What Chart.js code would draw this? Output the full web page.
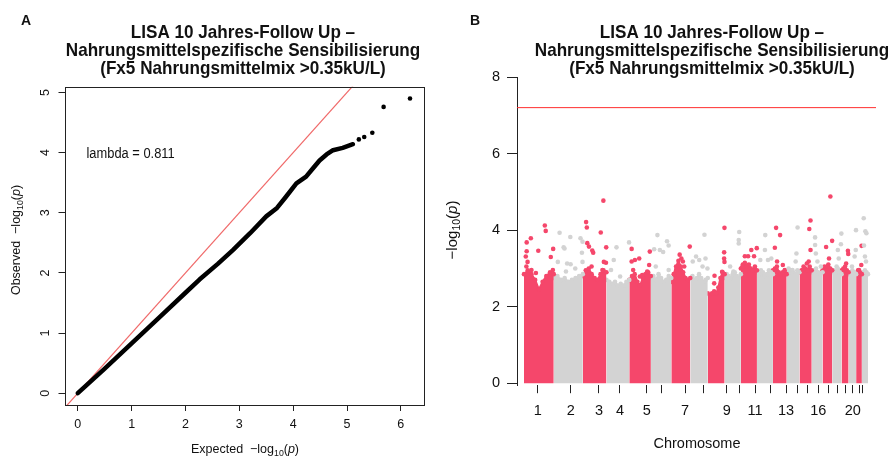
<!DOCTYPE html>
<html>
<head>
<meta charset="utf-8">
<script src="https://cdn.jsdelivr.net/npm/chart.js@4/dist/chart.umd.min.js"></script>
<style>
  html, body { margin: 0; padding: 0; background: #fff; }
  #wrap { position: relative; width: 891px; height: 457px; overflow: hidden; }
  canvas { position: absolute; top: 0; }
  #qq { left: 0; }
  #mh { left: 440px; }
</style>
</head>
<body>
<div id="wrap">
  <canvas id="qq" width="440" height="457"></canvas>
  <canvas id="mh" width="451" height="457"></canvas>
</div>
<script>
// ---------- shared text ----------
const titleLines = ['LISA 10 Jahres-Follow Up \u2013', 'Nahrungsmittelspezifische Sensibilisierung', '(Fx5 Nahrungsmittelmix >0.35kU/L)'];
const lambdaGC = 0.811;

// ---------- panel A: QQ plot (expected vs observed -log10 p) ----------
// dense body of the distribution, traced as a thick path
const qqBodyExpected = [0, 0.5, 1.0, 1.5, 2.0, 2.26, 2.6, 2.88, 3.2, 3.5, 3.7, 3.87, 4.06, 4.24, 4.35, 4.49, 4.62, 4.74, 4.92, 5.11];
const qqBodyObserved = [0, 0.41, 0.83, 1.25, 1.67, 1.89, 2.15, 2.38, 2.66, 2.94, 3.08, 3.27, 3.49, 3.60, 3.72, 3.87, 3.97, 4.04, 4.08, 4.14];
// sparse upper tail, single markers
const qqTailExpected = [5.22, 5.32, 5.47, 5.68, 6.17];
const qqTailObserved = [4.22, 4.26, 4.33, 4.76, 4.90];
const qqTicksX = [0, 1, 2, 3, 4, 5, 6];
const qqTicksY = [0, 1, 2, 3, 4, 5];

// ---------- panel B: Manhattan plot ----------
const chromosomes = ['1','2','3','4','5','6','7','8','9','10','11','12','13','14','15','16','17','18','19','20','21','22'];
const chrLengthMb = [249.3, 243.2, 198.0, 191.2, 180.9, 171.1, 159.1, 146.4, 141.2, 135.5, 135.0, 133.9, 115.2, 107.3, 102.5, 90.4, 81.2, 78.1, 59.1, 63.0, 48.1, 51.3];
// cumulative genome position of each chromosome's axis tick (median marker)
const chrTickMb = [114.7, 391.1, 628.1, 804.0, 1027.6, 1147.4, 1348.4, 1507.5, 1697.7, 1803.2, 1934.7, 2066.2, 2194.3, 2292.3, 2372.7, 2464.8, 2548.6, 2624.0, 2694.3, 2752.9, 2808.2, 2833.3];
const chrTickLabel = ['1','2','3','4','5','','7','','9','','11','','13','','','16','','','','20','',''];
// upper edge of the dense marker band (-log10 p), equal steps along each chromosome
const bandTop = [
  [2.85, 2.95, 2.85, 2.70, 2.45, 2.65, 2.80, 2.90, 2.85],
  [2.75, 2.80, 2.70, 2.75, 2.65, 2.70, 2.75, 2.80, 2.85],
  [2.80, 2.95, 3.00, 2.85, 2.75, 2.70, 2.85, 2.95, 2.90],
  [2.70, 2.65, 2.60, 2.65, 2.55, 2.60, 2.55, 2.65, 2.70],
  [2.70, 2.80, 2.85, 2.65, 2.55, 2.75, 2.85, 2.90, 2.80],
  [2.75, 2.80, 2.70, 2.85, 2.75, 2.65, 2.70, 2.80, 2.75],
  [2.65, 2.85, 3.05, 3.20, 3.05, 2.90, 2.75, 2.70, 2.75],
  [2.75, 2.80, 2.70, 2.75, 2.85, 2.75, 2.65, 2.70, 2.75],
  [2.35, 2.30, 2.35, 2.40, 2.35, 2.50, 2.75, 2.90, 2.85],
  [2.75, 2.85, 2.80, 2.75, 2.85, 2.90, 2.80, 2.75, 2.85],
  [3.00, 3.10, 3.15, 3.05, 3.10, 3.00, 2.95, 3.05, 2.95],
  [2.90, 2.85, 2.95, 2.90, 2.80, 2.85, 2.95, 2.90, 2.85],
  [2.95, 3.00, 3.05, 2.90, 2.85, 2.90, 2.95, 2.85],
  [2.85, 2.90, 2.95, 2.90, 2.85, 2.95, 2.90],
  [2.90, 2.95, 3.05, 3.00, 2.95, 3.05, 2.95],
  [2.90, 2.95, 3.00, 2.90, 2.85, 2.90],
  [2.95, 3.05, 3.00, 3.10, 3.00, 2.95],
  [2.90, 2.95, 2.90, 3.00, 2.90, 2.85],
  [2.95, 3.00, 3.05, 2.95, 2.90],
  [2.85, 2.90, 2.95, 2.90, 2.85],
  [2.85, 2.95, 2.90, 2.85],
  [2.85, 2.90, 2.95, 2.90, 2.85]
];
// markers above the band: [chromosome index, relative position in chromosome, -log10 p]
const hits = [
  [0,0.09,3.68],[0,0.23,3.79],[0,0.09,3.45],[0,0.48,3.46],[0,0.70,4.12],[0,0.73,3.98],[0,0.90,3.30],[0,0.98,3.51],[0,0.97,2.96],[0,0.06,3.31],[0,0.12,3.17],[0,0.08,3.05],[0,0.25,2.96],[0,0.40,2.88],
  [1,0.20,3.93],[1,0.34,3.55],[1,0.57,3.82],[1,0.46,3.13],[1,0.14,3.17],[1,0.42,2.92],[1,0.92,3.79],[1,0.99,3.70],[1,0.97,3.41],[1,0.99,3.17],[1,0.58,3.11],[1,0.74,3.00],[1,0.37,3.52],
  [2,0.14,4.21],[2,0.17,4.07],[2,0.87,4.77],[2,0.76,3.94],[2,0.19,3.66],[2,0.26,3.57],[2,0.40,3.47],[2,0.44,3.41],[2,0.83,2.96],[2,0.99,3.55],[2,0.98,3.15],[2,0.37,3.05],[2,0.89,3.17],
  [3,0.44,3.55],[3,0.32,3.22],[3,0.60,2.79],[3,0.99,3.68],[3,0.20,2.96],
  [4,0.11,3.51],[4,0.11,3.18],[4,0.26,3.22],[4,0.46,3.26],[4,0.95,3.44],[4,0.92,3.09],[4,0.49,2.79],[4,0.60,2.83],[4,0.83,2.92],[4,0.18,2.96],
  [5,0.32,3.87],[5,0.79,3.71],[5,0.87,3.60],[5,0.44,3.48],[5,0.60,3.43],[5,0.24,3.05],[5,0.87,2.96],[5,0.16,3.50],
  [6,0.44,3.36],[6,0.53,3.26],[6,0.61,3.18],[6,0.68,3.05],[6,0.26,2.96],[6,0.97,3.57],
  [7,0.81,3.88],[7,0.87,3.26],[7,0.51,3.22],[7,0.33,3.31],[7,0.70,3.05],[7,0.98,3.00],[7,0.14,3.18],
  [8,0.99,4.06],[8,0.97,3.42],[8,0.97,3.26],[8,0.99,3.17],[8,0.40,2.81],[8,0.38,2.61],[8,0.85,2.91],
  [9,0.90,3.95],[9,0.87,3.74],[9,0.87,3.65],[9,0.34,3.05],[9,0.54,2.92],
  [10,0.25,3.32],[10,0.45,3.32],[10,0.65,3.48],[10,0.82,3.32],[10,0.99,3.53],[10,0.10,3.05],
  [11,0.52,3.87],[11,0.21,3.22],[11,0.69,3.22],[11,0.90,3.26],[11,0.50,3.48],
  [12,0.23,4.06],[12,0.52,3.87],[12,0.14,3.54],[12,0.30,3.18],[12,0.87,2.96],[12,0.72,3.09],
  [13,0.85,4.07],[13,0.76,3.39],[13,0.70,3.18],[13,0.15,3.00],[13,0.45,2.96],
  [14,0.90,4.25],[14,0.80,4.03],[14,0.90,3.48],[14,0.75,3.18],[14,0.60,3.13],[14,0.30,2.96],
  [15,0.31,3.81],[15,0.31,3.61],[15,0.38,3.39],[15,0.53,3.18],[15,0.84,3.05],
  [16,0.81,4.88],[16,0.37,3.56],[16,0.99,3.72],[16,0.67,3.26],[16,0.50,3.05],
  [17,0.93,3.63],[17,0.60,3.48],[17,0.70,3.26],[17,0.98,3.91],[17,0.47,3.05],
  [18,0.90,3.46],[18,0.95,3.38],[18,0.65,3.13],[18,0.50,2.96],
  [19,0.98,4.00],[19,0.95,3.48],[19,0.80,3.31],[19,0.45,3.05],
  [20,0.95,3.59],[20,0.90,3.09],[20,0.50,2.96],
  [21,0.30,4.31],[21,0.57,3.97],[21,0.74,3.92],[21,0.50,3.31],[21,0.35,3.60],[21,0.67,3.18]
];
const genomeWideLine = 7.2;
const mhTicksY = [0, 2, 4, 6, 8];

// ---------- styling ----------
const FONT = '"Liberation Sans", Arial, Helvetica, sans-serif';
const INK = '#111';
const ODD_COLOR = '#f5476b';
const EVEN_COLOR = '#d3d3d3';
const DOT = 2.3;

function squeezedText(ctx, str, x, y, font, align, sx) {
  ctx.save();
  ctx.font = font;
  ctx.textAlign = align;
  ctx.textBaseline = 'alphabetic';
  ctx.translate(x, y);
  ctx.scale(sx, 1);
  ctx.fillText(str, 0, 0);
  ctx.restore();
}

// "<lead> −log10(p)" with subscript and italic p
function logLabel(ctx, lead, cx, cy, size, rotate) {
  const parts = [
    { t: lead + '\u2212log', f: size + 'px ' + FONT, dy: 0 },
    { t: '10', f: (size * 0.7) + 'px ' + FONT, dy: size * 0.3 },
    { t: '(', f: size + 'px ' + FONT, dy: 0 },
    { t: 'p', f: 'italic ' + size + 'px ' + FONT, dy: 0 },
    { t: ')', f: size + 'px ' + FONT, dy: 0 }
  ];
  ctx.save();
  let w = 0;
  parts.forEach(p => { ctx.font = p.f; p.w = ctx.measureText(p.t).width; w += p.w; });
  ctx.translate(cx, cy);
  if (rotate) ctx.rotate(-Math.PI / 2);
  ctx.textBaseline = 'middle';
  ctx.textAlign = 'left';
  let x = -w / 2;
  parts.forEach(p => { ctx.font = p.f; ctx.fillText(p.t, x, p.dy); x += p.w; });
  ctx.restore();
}

function drawTitle(ctx, cx) {
  titleLines.forEach((line, i) => {
    squeezedText(ctx, line, cx, 38 + i * 18, 'bold 19px ' + FONT, 'center', 0.9);
  });
}

// ---------- panel A ----------
const qqBody = qqBodyExpected.map((e, i) => ({ x: e, y: qqBodyObserved[i] }));
const qqTail = qqTailExpected.map((e, i) => ({ x: e, y: qqTailObserved[i] }));
const QQ_X = { min: -0.247, max: 6.417 };
const QQ_Y = { min: -0.196, max: 5.096 };

const qqDecor = {
  id: 'qqDecor',
  afterDraw(chart) {
    const ctx = chart.ctx;
    const a = chart.chartArea;
    ctx.save();
    ctx.strokeStyle = '#222';
    ctx.lineWidth = 1;
    ctx.strokeRect(Math.round(a.left) + 0.5, Math.round(a.top) + 0.5, Math.round(a.right - a.left), Math.round(a.bottom - a.top));
    ctx.fillStyle = INK;
    squeezedText(ctx, 'A', 21, 25, 'bold 14px ' + FONT, 'left', 1);
    drawTitle(ctx, 243);
    squeezedText(ctx, 'lambda = ' + lambdaGC, 86.5, 158, '14px ' + FONT, 'left', 0.92);
    logLabel(ctx, 'Expected  ', 245, 450, 12.5, false);
    logLabel(ctx, 'Observed  ', 17, 240, 12.5, true);
    ctx.restore();
  }
};

new Chart(document.getElementById('qq'), {
  type: 'scatter',
  data: {
    datasets: [
      { type: 'line', data: [{ x: -1, y: -1 }, { x: 7, y: 7 }], borderColor: '#f06a6a', borderWidth: 1.2, pointRadius: 0, order: 2 },
      { type: 'line', data: qqBody, borderColor: '#000', borderWidth: 4.5, pointRadius: 0, borderCapStyle: 'round', borderJoinStyle: 'round', tension: 0, order: 1 },
      { data: qqTail, backgroundColor: '#000', borderWidth: 0, pointRadius: DOT, order: 0 }
    ]
  },
  options: {
    responsive: false, animation: false, events: [],
    layout: { padding: { left: 34.5, right: 16.7, top: 86.7, bottom: 22 } },
    plugins: { legend: { display: false }, tooltip: { enabled: false } },
    scales: {
      x: {
        type: 'linear', min: QQ_X.min, max: QQ_X.max,
        afterFit: s => { s.height = 30; },
        afterBuildTicks: s => { s.ticks = qqTicksX.map(v => ({ value: v })); },
        border: { display: false },
        grid: { drawOnChartArea: false, tickLength: 6, tickColor: '#222' },
        ticks: { color: INK, font: { family: FONT, size: 12.5 }, padding: 6, maxRotation: 0, autoSkip: false }
      },
      y: {
        type: 'linear', min: QQ_Y.min, max: QQ_Y.max,
        afterFit: s => { s.width = 30; },
        afterBuildTicks: s => { s.ticks = qqTicksY.map(v => ({ value: v })); },
        border: { display: false },
        grid: { drawOnChartArea: false, tickLength: 6, tickColor: '#222' },
        ticks: { color: INK, font: { family: FONT, size: 12.5 }, padding: 9, minRotation: 90, maxRotation: 90, crossAlign: 'center', autoSkip: false }
      }
    }
  },
  plugins: [qqDecor]
});

// ---------- panel B ----------
const chrStartMb = [];
let cum = 0;
chrLengthMb.forEach(len => { chrStartMb.push(cum); cum += len; });
const colorOf = c => (c % 2 === 0 ? ODD_COLOR : EVEN_COLOR);
const MH_X = { min: -58.6, max: 2948 };

// the dense marker mass of each chromosome: filled to zero, markers at the sampled edge
const bandSets = bandTop.map((tops, c) => ({
  type: 'line',
  data: tops.map((v, k) => ({ x: chrStartMb[c] + chrLengthMb[c] * k / (tops.length - 1), y: v })),
  borderColor: colorOf(c), borderWidth: 2, borderJoinStyle: 'round',
  pointRadius: DOT, pointBackgroundColor: colorOf(c), pointBorderWidth: 0,
  backgroundColor: colorOf(c), fill: 'origin', tension: 0, order: 3
}));

const hitPoints = hits.map(h => ({ x: chrStartMb[h[0]] + h[1] * chrLengthMb[h[0]], y: h[2] }));
const hitColors = hits.map(h => colorOf(h[0]));

const mhDecor = {
  id: 'mhDecor',
  afterDraw(chart) {
    const ctx = chart.ctx;
    ctx.save();
    ctx.fillStyle = INK;
    squeezedText(ctx, 'B', 30, 25, 'bold 14px ' + FONT, 'left', 1);
    drawTitle(ctx, 272);
    logLabel(ctx, '', 13, 230, 15, true);
    ctx.font = '14.5px ' + FONT;
    ctx.textAlign = 'center';
    ctx.textBaseline = 'middle';
    ctx.fillText('Chromosome', 257, 444);
    ctx.restore();
  }
};

new Chart(document.getElementById('mh'), {
  type: 'scatter',
  data: {
    datasets: [
      { data: hitPoints, backgroundColor: hitColors, borderWidth: 0, pointRadius: DOT, order: 0 },
      { type: 'line', data: [{ x: MH_X.min, y: genomeWideLine }, { x: MH_X.max, y: genomeWideLine }], borderColor: '#ff2e2e', borderWidth: 1, pointRadius: 0, order: 1 }
    ].concat(bandSets)
  },
  options: {
    responsive: false, animation: false, events: [],
    layout: { padding: { left: 37, right: 15, top: 77, bottom: 31.8 } },
    plugins: { legend: { display: false }, tooltip: { enabled: false } },
    scales: {
      x: {
        type: 'linear', min: MH_X.min, max: MH_X.max,
        afterFit: s => { s.height = 40; },
        afterBuildTicks: s => { s.ticks = chrTickMb.map(v => ({ value: v })); },
        border: { display: false },
        grid: { drawOnChartArea: false, tickLength: 8, tickColor: '#222' },
        ticks: {
          color: INK, font: { family: FONT, size: 14.5 }, padding: 9, maxRotation: 0, autoSkip: false,
          callback: (v, i) => chrTickLabel[i]
        }
      },
      y: {
        type: 'linear', min: -0.05, max: 8,
        afterFit: s => { s.width = 40; },
        afterBuildTicks: s => { s.ticks = mhTicksY.map(v => ({ value: v })); },
        border: { display: true, color: '#222', width: 1 },
        grid: { drawOnChartArea: false, tickLength: 10, tickColor: '#222' },
        ticks: { color: INK, font: { family: FONT, size: 14.5 }, padding: 7, autoSkip: false }
      }
    }
  },
  plugins: [mhDecor]
});
</script>
</body>
</html>
